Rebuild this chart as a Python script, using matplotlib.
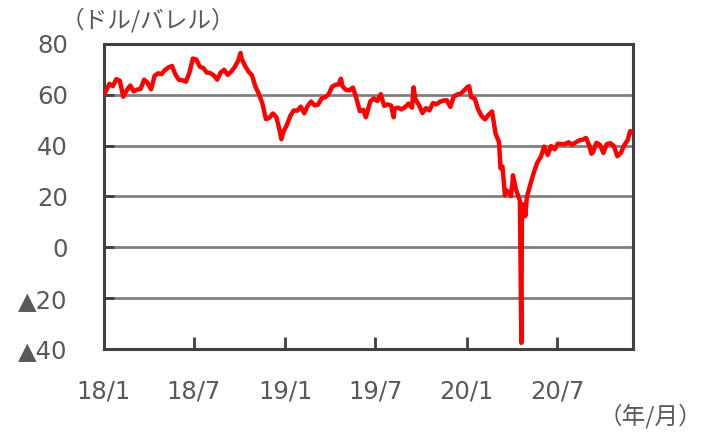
import pandas as pd
import matplotlib
matplotlib.use('Agg')
import matplotlib.pyplot as plt
import matplotlib.dates as mdates
from matplotlib.ticker import FuncFormatter

plt.rcParams['font.family'] = ['Noto Sans CJK JP', 'DejaVu Sans']

# WTI原油価格(週次、ドル/バレル)
dates = [
    '2018-01-02', '2018-01-05', '2018-01-12', '2018-01-19', '2018-01-26', '2018-02-02', '2018-02-09',
    '2018-02-16', '2018-02-23', '2018-03-02', '2018-03-09', '2018-03-16', '2018-03-23', '2018-03-29',
    '2018-04-06', '2018-04-13', '2018-04-20', '2018-04-27', '2018-05-04', '2018-05-11', '2018-05-18',
    '2018-05-25', '2018-06-01', '2018-06-08', '2018-06-15', '2018-06-22', '2018-06-29', '2018-07-06',
    '2018-07-13', '2018-07-20', '2018-07-27', '2018-08-03', '2018-08-10', '2018-08-17', '2018-08-24',
    '2018-08-31', '2018-09-07', '2018-09-14', '2018-09-21', '2018-09-28', '2018-10-03', '2018-10-05',
    '2018-10-12', '2018-10-19', '2018-10-26', '2018-11-02', '2018-11-09', '2018-11-16', '2018-11-23',
    '2018-11-30', '2018-12-07', '2018-12-14', '2018-12-21', '2018-12-24', '2018-12-28',
    '2019-01-04', '2019-01-11', '2019-01-18', '2019-01-25', '2019-02-01', '2019-02-08', '2019-02-15',
    '2019-02-22', '2019-03-01', '2019-03-08', '2019-03-15', '2019-03-22', '2019-03-29', '2019-04-05',
    '2019-04-12', '2019-04-18', '2019-04-23', '2019-04-26', '2019-05-03', '2019-05-10', '2019-05-17',
    '2019-05-24', '2019-05-31', '2019-06-07', '2019-06-12', '2019-06-14', '2019-06-21', '2019-06-28',
    '2019-07-05', '2019-07-12', '2019-07-19', '2019-07-26', '2019-08-02', '2019-08-07', '2019-08-09',
    '2019-08-16', '2019-08-23', '2019-08-30', '2019-09-06', '2019-09-13', '2019-09-16', '2019-09-20',
    '2019-09-27', '2019-10-04', '2019-10-11', '2019-10-18', '2019-10-25', '2019-11-01', '2019-11-08',
    '2019-11-15', '2019-11-22', '2019-11-29', '2019-12-06', '2019-12-13', '2019-12-20', '2019-12-27',
    '2020-01-03', '2020-01-06', '2020-01-10', '2020-01-17', '2020-01-24', '2020-01-31', '2020-02-07',
    '2020-02-14', '2020-02-21', '2020-02-28', '2020-03-06', '2020-03-09', '2020-03-13', '2020-03-18',
    '2020-03-20', '2020-03-27', '2020-03-30', '2020-04-02', '2020-04-03', '2020-04-09', '2020-04-17',
    '2020-04-20', '2020-04-21', '2020-04-24', '2020-04-28', '2020-05-01', '2020-05-08', '2020-05-15',
    '2020-05-22', '2020-05-29', '2020-06-05', '2020-06-12', '2020-06-19', '2020-06-26', '2020-07-02',
    '2020-07-10', '2020-07-17', '2020-07-24', '2020-07-31', '2020-08-07', '2020-08-14', '2020-08-21',
    '2020-08-28', '2020-09-04', '2020-09-08', '2020-09-11', '2020-09-18', '2020-09-25', '2020-10-02',
    '2020-10-09', '2020-10-16', '2020-10-23', '2020-10-30', '2020-11-06', '2020-11-13', '2020-11-20',
    '2020-11-25', '2020-11-27',
]
prices = [
    60.4, 61.4, 64.3, 63.4, 66.1, 65.5, 59.2,
    61.7, 63.6, 61.3, 62.0, 62.3, 65.9, 64.9,
    62.1, 67.4, 68.4, 68.1, 69.7, 70.7, 71.3,
    67.9, 65.8, 65.7, 65.1, 68.6, 74.2, 73.8,
    71.0, 70.5, 68.7, 68.5, 67.6, 65.9, 68.7,
    69.8, 67.8, 69.0, 70.8, 73.3, 76.4, 74.3,
    71.3, 69.1, 67.6, 63.1, 60.2, 56.5, 50.4,
    50.9, 52.6, 51.2, 45.6, 42.5, 45.3,
    48.0, 51.6, 53.8, 53.7, 55.3, 52.7, 55.6,
    57.3, 55.8, 56.1, 58.5, 59.0, 60.1, 63.1,
    63.9, 64.0, 66.3, 63.3, 61.9, 61.7, 62.8,
    58.6, 53.5, 54.0, 51.1, 52.5, 57.4, 58.5,
    57.5, 60.2, 55.6, 56.2, 55.7, 51.1, 54.5,
    54.9, 54.2, 55.1, 56.5, 54.9, 62.9, 58.1,
    55.9, 52.8, 54.7, 53.8, 56.7, 56.2, 57.2,
    57.7, 57.8, 55.2, 59.2, 60.1, 60.4, 61.7,
    63.1, 63.3, 59.0, 58.5, 54.2, 51.6, 50.3,
    52.1, 53.4, 44.8, 41.3, 31.1, 31.7, 20.4,
    22.4, 21.5, 20.1, 25.3, 28.3, 22.8, 18.3,
    -37.6, 10.0, 16.9, 12.3, 19.8, 24.7, 29.4,
    33.3, 35.5, 39.6, 36.3, 39.8, 38.5, 40.7,
    40.6, 40.6, 41.3, 40.3, 41.2, 42.0, 42.3,
    43.0, 39.8, 36.8, 37.3, 41.1, 40.3, 37.1,
    40.6, 40.9, 39.9, 35.8, 37.1, 40.1, 42.2,
    45.7, 45.5,
]
y_ticks = [-40, -20, 0, 20, 40, 60, 80]
x_ticks = ['2018-01-01', '2018-07-01', '2019-01-01', '2019-07-01', '2020-01-01', '2020-07-01']

data = pd.DataFrame({'date': pd.to_datetime(dates), 'price': prices})

fig = plt.figure(figsize=(7.02, 4.34), dpi=100)
ax = fig.add_axes([0.148, 0.196, 0.754, 0.703])

ax.plot(data['date'], data['price'], color='#ff0000', linewidth=3.2, solid_joinstyle='round', zorder=3)

ax.set_ylim(-40, 80)
ax.set_yticks(y_ticks)
ax.yaxis.set_major_formatter(FuncFormatter(lambda v, p: ('▲%d' % abs(v)) if v < 0 else '%d' % v))
ax.set_xlim(pd.Timestamp('2018-01-01'), pd.Timestamp('2020-12-01'))
ax.set_xticks(pd.to_datetime(x_ticks))
ax.xaxis.set_major_formatter(mdates.DateFormatter('%y/%-m'))

ax.grid(axis='y', color='#808080', linewidth=2.0, zorder=1)
for s in ax.spines.values():
    s.set_color('#404040')
    s.set_linewidth(2.2)

ax.tick_params(axis='y', direction='in', length=7, width=2, color='#404040',
               labelsize=17.5, labelcolor='#595959', pad=26)
ax.tick_params(axis='x', direction='in', length=9, width=2, color='#404040',
               labelsize=17.5, labelcolor='#595959', pad=22)
for lab in ax.get_xticklabels() + ax.get_yticklabels():
    lab.set_family('DejaVu Sans')

fig.text(0.086, 0.953, '（ドル/バレル）', fontsize=17, color='#595959', ha='left', va='center')
fig.text(1.0, 0.04, '（年/月）', fontsize=17, color='#595959', ha='right', va='center')

plt.savefig('out.png', dpi=100)
